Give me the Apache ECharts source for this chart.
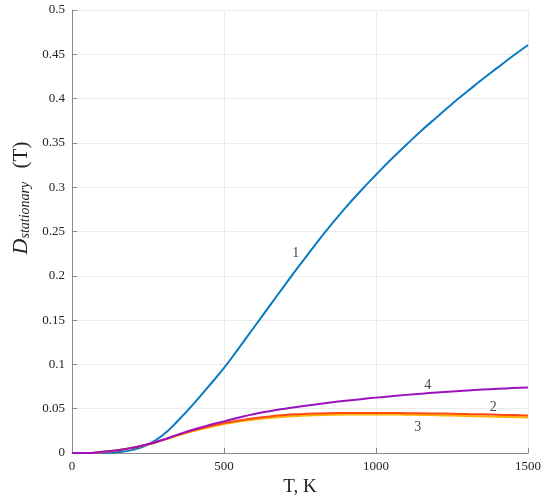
<!DOCTYPE html>
<html>
<head>
<meta charset="utf-8">
<script src="https://cdn.jsdelivr.net/npm/echarts@6/dist/echarts.min.js"></script>
<style>html,body{margin:0;padding:0;background:#fff}#c{width:550px;height:498px}</style>
</head>
<body>
<div id="c"></div>
<script>
var temps = [0,50,100,150,200,250,300,350,400,450,500,550,600,650,700,750,800,850,900,950,1000,1050,1100,1150,1200,1250,1300,1350,1400,1450,1500];
var curve1 = [0,0,0.0002,0.001,0.0035,0.0095,0.0205,0.037,0.0555,0.0755,0.096,0.119,0.1425,0.166,0.1895,0.2125,0.235,0.2565,0.277,0.296,0.314,0.3315,0.348,0.364,0.379,0.394,0.408,0.4218,0.435,0.448,0.4605];
var curve2 = [0,0,0.0012,0.003,0.006,0.0098,0.015,0.0205,0.0255,0.030,0.0338,0.0368,0.0393,0.0413,0.0428,0.0438,0.0445,0.0449,0.0451,0.0452,0.0452,0.0451,0.0450,0.0448,0.0446,0.0443,0.0439,0.0436,0.0432,0.0428,0.0424];
var curve3 = [0,0,0.0012,0.003,0.006,0.0097,0.0147,0.0200,0.0248,0.0290,0.0326,0.0355,0.0378,0.0396,0.0410,0.0420,0.0427,0.0431,0.0434,0.0435,0.0435,0.0434,0.0432,0.0429,0.0426,0.0422,0.0418,0.0414,0.0410,0.0405,0.0400];
var curve4 = [0,0,0.0015,0.0032,0.006,0.0098,0.015,0.021,0.0265,0.0315,0.0357,0.0401,0.0440,0.0472,0.0500,0.0525,0.0548,0.0570,0.0590,0.0608,0.0625,0.0641,0.0656,0.0670,0.0683,0.0695,0.0706,0.0716,0.0725,0.0733,0.0740];
var labelNames = ['1','2','3','4'];
var labelT = [736,1386,1137,1170];
var labelD = [0.225,0.052,0.0286,0.076];
var xTicks = [0,500,1000,1500];
var yTicks = [0,0.05,0.1,0.15,0.2,0.25,0.3,0.35,0.4,0.45,0.5];

function pairs(ys){ return temps.map(function(t,i){return [t,ys[i]];}); }
var serif = 'Liberation Serif';
var chart = echarts.init(document.getElementById('c'));
chart.setOption({
  animation:false,
  backgroundColor:'#fff',
  grid:{left:72,right:22,top:10,bottom:45,containLabel:false,outerBoundsMode:'none'},
  xAxis:{type:'value',min:xTicks[0],max:xTicks[xTicks.length-1],interval:500,
    name:'T, K',nameLocation:'middle',nameGap:22,
    nameTextStyle:{fontFamily:serif,fontSize:19,color:'#222'},
    axisLine:{lineStyle:{color:'#8a8a8a',width:1}},
    axisTick:{inside:true,length:5,lineStyle:{color:'#8a8a8a'}},
    axisLabel:{fontFamily:serif,fontSize:13,color:'#222',margin:7,formatter:function(v){return String(v);}},
    splitLine:{show:true,lineStyle:{color:'#ececec',width:1}}},
  yAxis:{type:'value',min:yTicks[0],max:yTicks[yTicks.length-1],interval:0.05,
    axisLine:{show:true,lineStyle:{color:'#8a8a8a',width:1}},
    axisTick:{show:true,inside:true,length:5,lineStyle:{color:'#8a8a8a'}},
    axisLabel:{fontFamily:serif,fontSize:13,color:'#222',margin:7,formatter:function(v){return String(+v.toFixed(2));}},
    splitLine:{show:true,lineStyle:{color:'#ececec',width:1}}},
  graphic:[{type:'text',x:21,y:198,rotation:Math.PI/2,
    style:{text:'{d|D}{s|stationary}    {t|(T)}',align:'center',verticalAlign:'middle',
      fill:'#222',
      rich:{d:{fontFamily:serif,fontSize:22,fontStyle:'italic',fill:'#222',verticalAlign:'bottom'},
            s:{fontFamily:serif,fontSize:14,fontStyle:'italic',fill:'#222',verticalAlign:'bottom',lineHeight:12},
            t:{fontFamily:serif,fontSize:21,fill:'#222',verticalAlign:'bottom'}}}}],
  series:[
    {type:'line',data:pairs(curve1),smooth:true,showSymbol:false,lineStyle:{color:'#0a7ac4',width:2},itemStyle:{color:'#0a7ac4'}},
    {type:'line',data:pairs(curve3),smooth:true,showSymbol:false,lineStyle:{color:'#ffb000',width:2},itemStyle:{color:'#ffb000'}},
    {type:'line',data:pairs(curve2),smooth:true,showSymbol:false,lineStyle:{color:'#ff4a10',width:2},itemStyle:{color:'#ff4a10'}},
    {type:'line',data:pairs(curve4),smooth:true,showSymbol:false,lineStyle:{color:'#9b12bd',width:2},itemStyle:{color:'#9b12bd'}},
    {type:'scatter',symbolSize:0,silent:true,
      data:labelNames.map(function(n,i){return {value:[labelT[i],labelD[i]],name:n};}),
      label:{show:true,position:'inside',formatter:'{b}',fontFamily:serif,fontSize:14,color:'#111'}}
  ]
});
</script>
</body>
</html>
